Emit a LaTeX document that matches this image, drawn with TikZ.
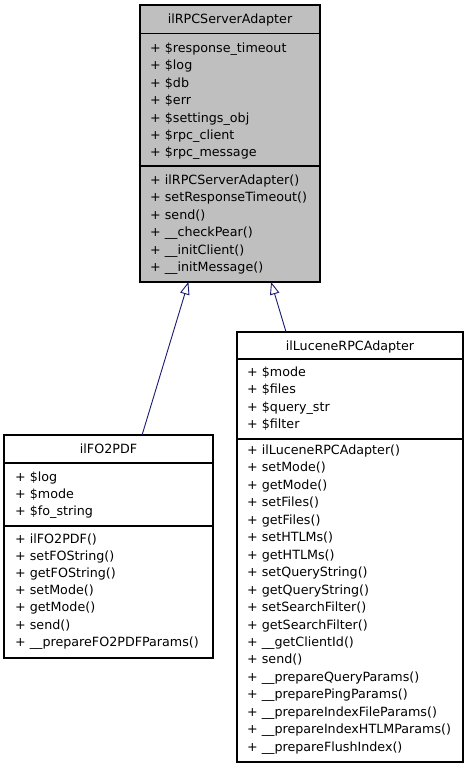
\documentclass[tikz,border=0pt]{standalone}
\usepackage{fontspec}
\setmainfont{DejaVu Sans}
\usetikzlibrary{arrows.meta}
\definecolor{edgeblue}{HTML}{191970}
\definecolor{boxgray}{HTML}{BFBFBF}
\begin{document}
\begin{tikzpicture}[x=1pt,y=-1pt,
  box/.style={draw=black, line width=1.1pt, inner sep=0pt, outer sep=0pt, anchor=north west},
  member/.style={anchor=base west, inner sep=0pt, font=\fontsize{12.7}{15}\selectfont},
  title/.style={anchor=base, inner sep=0pt, font=\fontsize{12.7}{15}\selectfont},
  sepline/.style={draw=black, line width=1.1pt},
  inherit/.style={draw=edgeblue, line width=0.9pt, -{Triangle[open, length=12.5pt, width=9.5pt, fill=white]}}]
\useasboundingbox (0,0) rectangle (469,768);

% base class
\node[box, fill=boxgray, minimum width=180pt, minimum height=277pt] (base) at (140,5) {};
\draw[sepline] (140,33.5) -- (320,33.5);
\draw[sepline] (140,166) -- (320,166);
\node[title] (basetitle) at (230,24) {ilRPCServerAdapter};
\foreach \t [count=\i from 0] in {+ \$response\_timeout, + \$log, + \$db, + \$err, + \$settings\_obj, + \$rpc\_client, + \$rpc\_message}
  \node[member] (ba\i) at (150,52.5+17.4*\i) {\t};
\foreach \t [count=\i from 0] in {+ ilRPCServerAdapter(), + setResponseTimeout(), + send(), + \_\_checkPear(), + \_\_initClient(), + \_\_initMessage()}
  \node[member] (bm\i) at (150,184.5+17.4*\i) {\t};

% ilFO2PDF
\node[box, fill=white, minimum width=209pt, minimum height=223pt] (fo) at (4,435) {};
\draw[sepline] (4,463) -- (213,463);
\draw[sepline] (4,526) -- (213,526);
\node[title] (fotitle) at (108.5,453.5) {ilFO2PDF};
\foreach \t [count=\i from 0] in {+ \$log, + \$mode, + \$fo\_string}
  \node[member] (fa\i) at (15,481+17.2*\i) {\t};
\foreach \t [count=\i from 0] in {+ ilFO2PDF(), + setFOString(), + getFOString(), + setMode(), + getMode(), + send(), + \_\_prepareFO2PDFParams()}
  \node[member] (fm\i) at (15,543+17.2*\i) {\t};

% ilLuceneRPCAdapter
\node[box, fill=white, minimum width=226pt, minimum height=430pt] (luc) at (237,332) {};
\draw[sepline] (237,359) -- (463,359);
\draw[sepline] (237,439) -- (463,439);
\node[title] (luctitle) at (350,350) {ilLuceneRPCAdapter};
\foreach \t [count=\i from 0] in {+ \$mode, + \$files, + \$query\_str, + \$filter}
  \node[member] (la\i) at (247,376.5+17.3*\i) {\t};
\foreach \t [count=\i from 0] in {+ ilLuceneRPCAdapter(), + setMode(), + getMode(), + setFiles(), + getFiles(), + setHTLMs(), + getHTLMs(), + setQueryString(), + getQueryString(), + setSearchFilter(), + getSearchFilter(), + \_\_getClientId(), + send(), + \_\_prepareQueryParams(), + \_\_preparePingParams(), + \_\_prepareIndexFileParams(), + \_\_prepareIndexHTLMParams(), + \_\_prepareFlushIndex()}
  \node[member] (lm\i) at (247,454.5+17.45*\i) {\t};

% inheritance
\draw[inherit] (fo) -- (base);
\draw[inherit] (luc) -- (base);
\end{tikzpicture}
\end{document}
